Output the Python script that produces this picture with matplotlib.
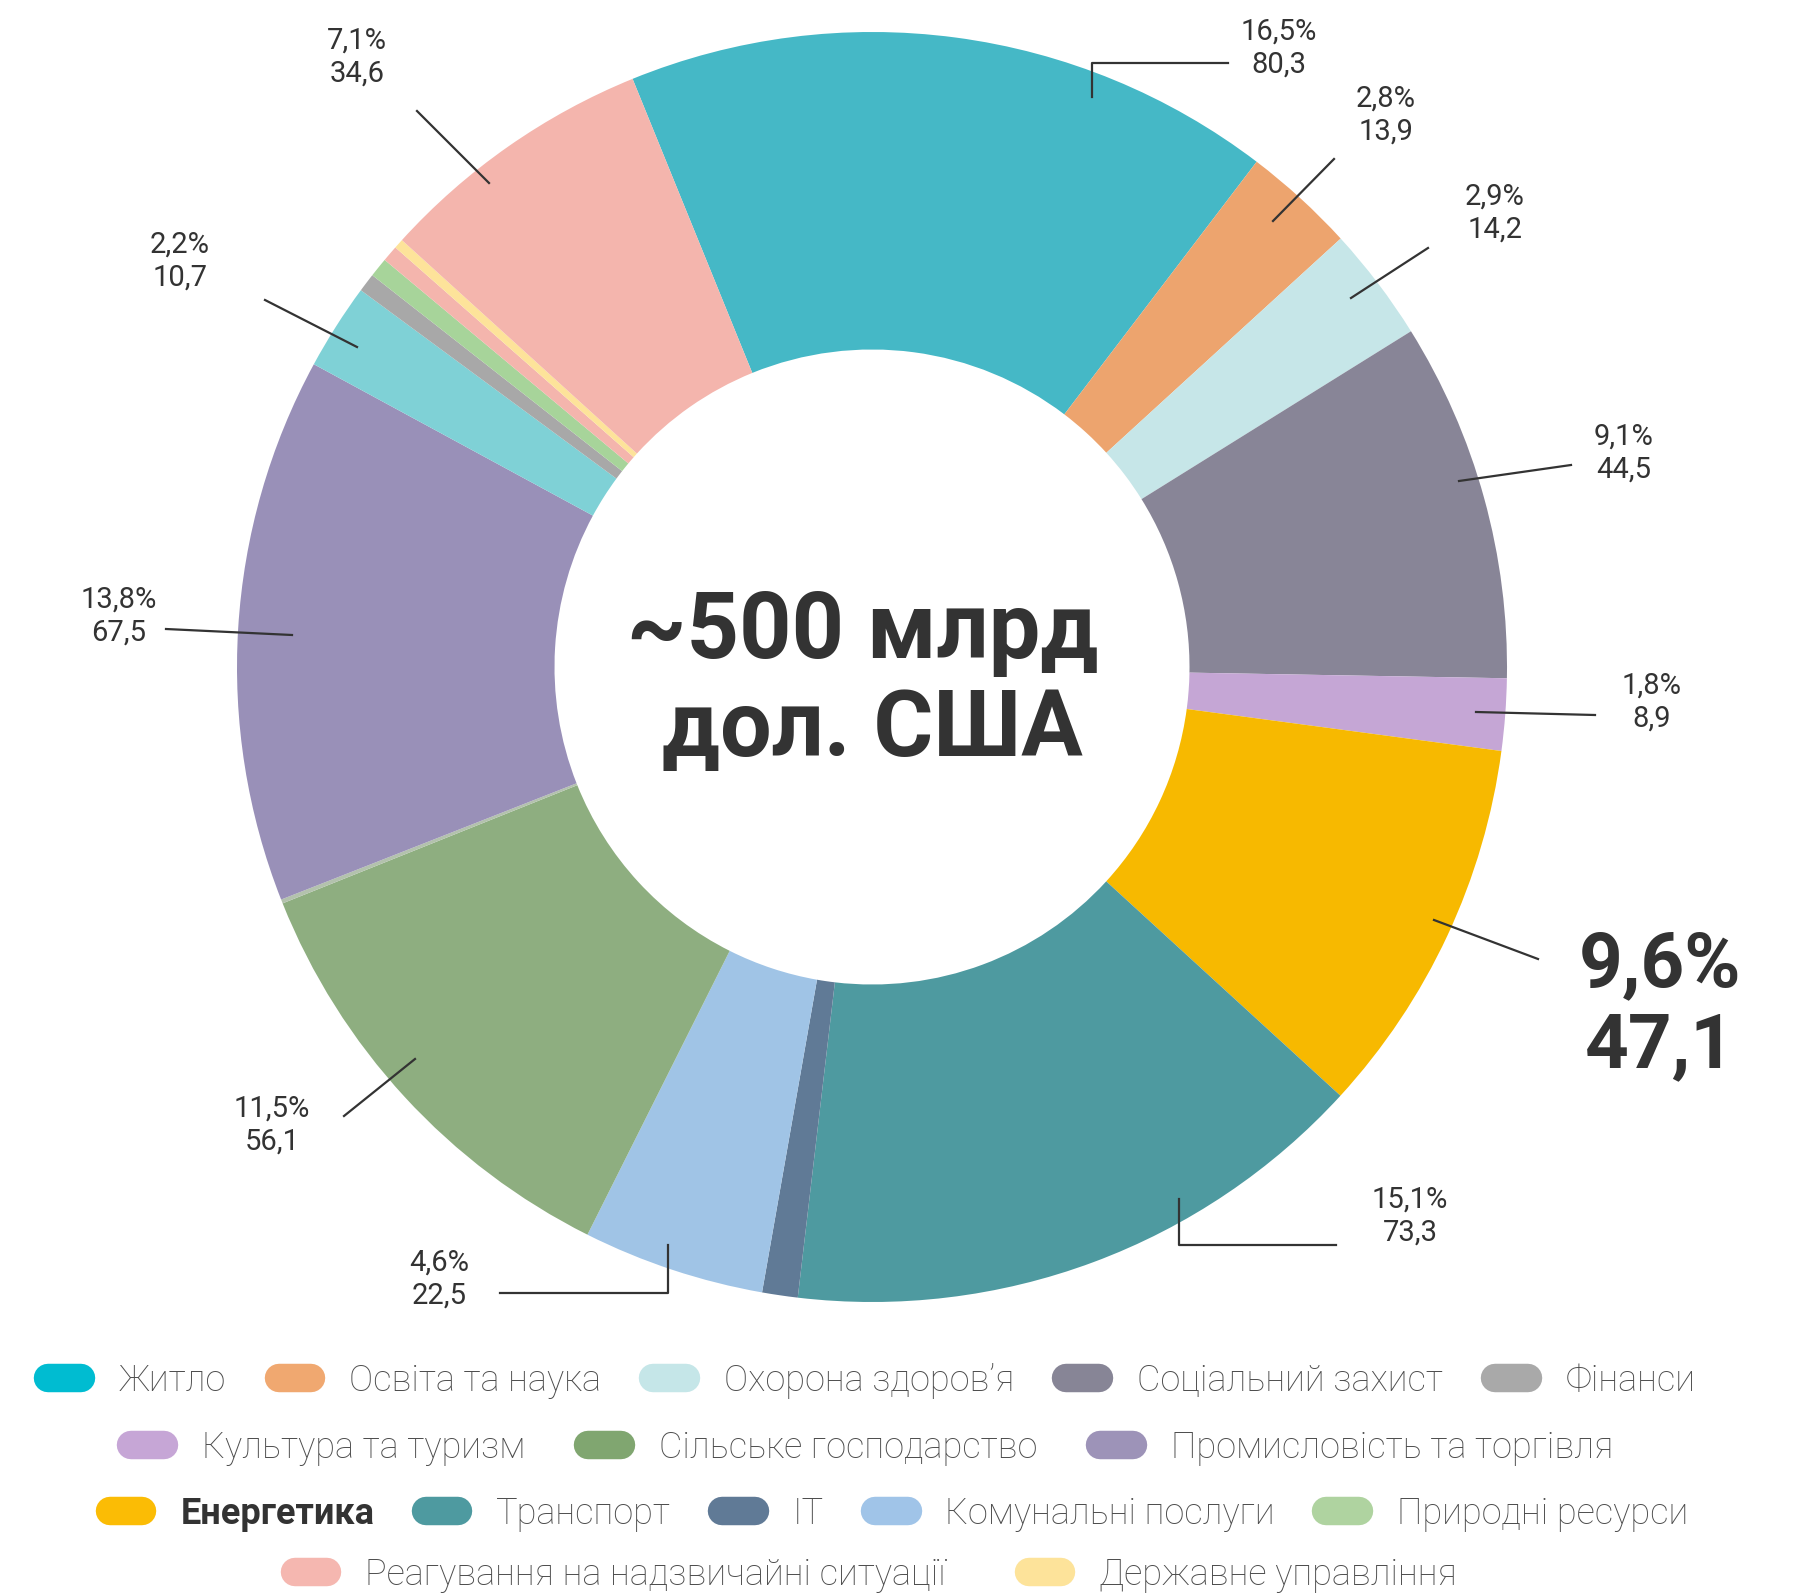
import matplotlib.pyplot as plt
from matplotlib.lines import Line2D

plt.rcParams['font.family'] = ['Roboto', 'DejaVu Sans']

# slices clockwise from the top-left edge of "Житло"
sectors = ["Житло", "Освіта та наука", "Охорона здоров’я", "Соціальний захист",
           "Культура та туризм", "Енергетика", "Транспорт", "IT",
           "Комунальні послуги", "Сільське господарство", "Інше (1)",
           "Промисловість та торгівля", "Інше (2)", "Фінанси", "Природні ресурси",
           "Інше (3)", "Державне управління", "Реагування на надзвичайні ситуації"]
values = [80.3, 13.9, 14.2, 44.5, 8.9, 47.1, 73.3, 4.4, 22.5, 56.1, 0.5,
          67.5, 10.7, 2.3, 2.4, 2.0, 1.2, 34.6]
shares = ["16,5%", "2,8%", "2,9%", "9,1%", "1,8%", "9,6%", "15,1%", None,
          "4,6%", "11,5%", None, "13,8%", "2,2%", None, None, None, None, "7,1%"]
amounts = ["80,3", "13,9", "14,2", "44,5", "8,9", "47,1", "73,3", None,
           "22,5", "56,1", None, "67,5", "10,7", None, None, None, None, "34,6"]
colors = ["#45b8c6", "#eda46e", "#c6e6e8", "#888597", "#c5a6d5", "#f7b900",
          "#4e9aa0", "#607a96", "#a0c4e6", "#8eae80", "#b3c2ad", "#9990b8",
          "#7fd1d6", "#a8a8a8", "#a7d49a", "#f4b5ad", "#fde39a", "#f4b5ad"]

legend_rows = [
    ["Житло", "Освіта та наука", "Охорона здоров’я", "Соціальний захист", "Фінанси"],
    ["Культура та туризм", "Сільське господарство", "Промисловість та торгівля"],
    ["Енергетика", "Транспорт", "IT", "Комунальні послуги", "Природні ресурси"],
    ["Реагування на надзвичайні ситуації", "Державне управління"],
]
legend_colors = {
    "Житло": "#00bcd1", "Освіта та наука": "#f0a870", "Охорона здоров’я": "#c5e6e8",
    "Соціальний захист": "#878596", "Фінанси": "#a9a9a9", "Культура та туризм": "#c6a6d6",
    "Сільське господарство": "#80a670", "Промисловість та торгівля": "#9d93b8",
    "Енергетика": "#fbbc05", "Транспорт": "#4e9aa0", "IT": "#607a96",
    "Комунальні послуги": "#a0c4e8", "Природні ресурси": "#afd3a0",
    "Реагування на надзвичайні ситуації": "#f5b7b0", "Державне управління": "#fde39a",
}

# label layout in reference pixels: text centre, leader line points
label_pos = {
    0: ((1279, 48), [(1092, 97), (1092, 63), (1228, 63)]),
    1: ((1386, 115), [(1273, 221), (1334, 159)]),
    2: ((1495, 213), [(1351, 298), (1428, 248)]),
    3: ((1624, 453), [(1459, 481), (1571, 465)]),
    4: ((1652, 702), [(1476, 712), (1595, 715)]),
    5: ((1660, 1006), [(1434, 920), (1538, 959)]),
    6: ((1410, 1216), [(1179, 1199), (1179, 1245), (1336, 1245)]),
    8: ((439, 1279), [(668, 1245), (668, 1293), (500, 1293)]),
    9: ((272, 1125), [(415, 1059), (344, 1116)]),
    11: ((119, 616), [(292, 635), (166, 629)]),
    12: ((180, 261), [(357, 347), (265, 300)]),
    17: ((357, 57), [(489, 183), (417, 111)]),
}

W, H = 1799, 1593
CX, CY, R = 872, 667, 635

fig = plt.figure(figsize=(W / 100, H / 100), dpi=100)
ax = fig.add_axes([(CX - R) / W, (H - CY - R) / H, 2 * R / W, 2 * R / H])
ax.pie(values, colors=colors, startangle=112.15, counterclock=False,
       radius=1, wedgeprops=dict(width=0.5, linewidth=0))
ax.set_xlim(-1, 1)
ax.set_ylim(-1, 1)
ax.set_aspect('equal')
ax.axis('off')


def to_data(p):
    return (p[0] - CX) / R, (CY - p[1]) / R


for i, (tpos, pts) in label_pos.items():
    xs, ys = zip(*[to_data(p) for p in pts])
    ax.plot(xs, ys, color="#333333", lw=1.6, clip_on=False)
    tx, ty = to_data(tpos)
    if i == 5:
        ax.text(tx, ty, f"{shares[i]}\n{amounts[i]}", ha='center', va='center',
                fontsize=55, fontweight='bold', color="#333333",
                linespacing=1.15, clip_on=False)
    else:
        ax.text(tx, ty, f"{shares[i]}\n{amounts[i]}", ha='center', va='center',
                fontsize=21, color="#333333", linespacing=1.25, clip_on=False)

ax.text(-0.015, 0.055, "~500 млрд", ha='center', va='center', fontsize=66,
        fontweight='bold', color="#333333")
ax.text(0.0, -0.1, "дол. США", ha='center', va='center', fontsize=66,
        fontweight='bold', color="#333333")

row_y = [1381, 1448, 1514, 1575]
row_x = [872, 872, 899, 876]
row_spacing = [1.45, 1.75, 1.42, 2.3]
for names, x, y, cs in zip(legend_rows, row_x, row_y, row_spacing):
    handles = [Line2D([0], [0], color=legend_colors[n], lw=20.5,
                      solid_capstyle='round') for n in names]
    leg = fig.legend(handles, names, loc='center', bbox_to_anchor=(x / W, 1 - y / H),
                     ncol=len(names), frameon=False, fontsize=26,
                     handlelength=0.9, handletextpad=1.05, columnspacing=cs,
                     borderpad=0, borderaxespad=0)
    for t in leg.get_texts():
        if t.get_text() == "Енергетика":
            t.set_fontweight('bold')
            t.set_color("#333333")
        else:
            t.set_fontweight('light')
            t.set_color("#4d4d4d")

fig.savefig("out.png", dpi=100)
